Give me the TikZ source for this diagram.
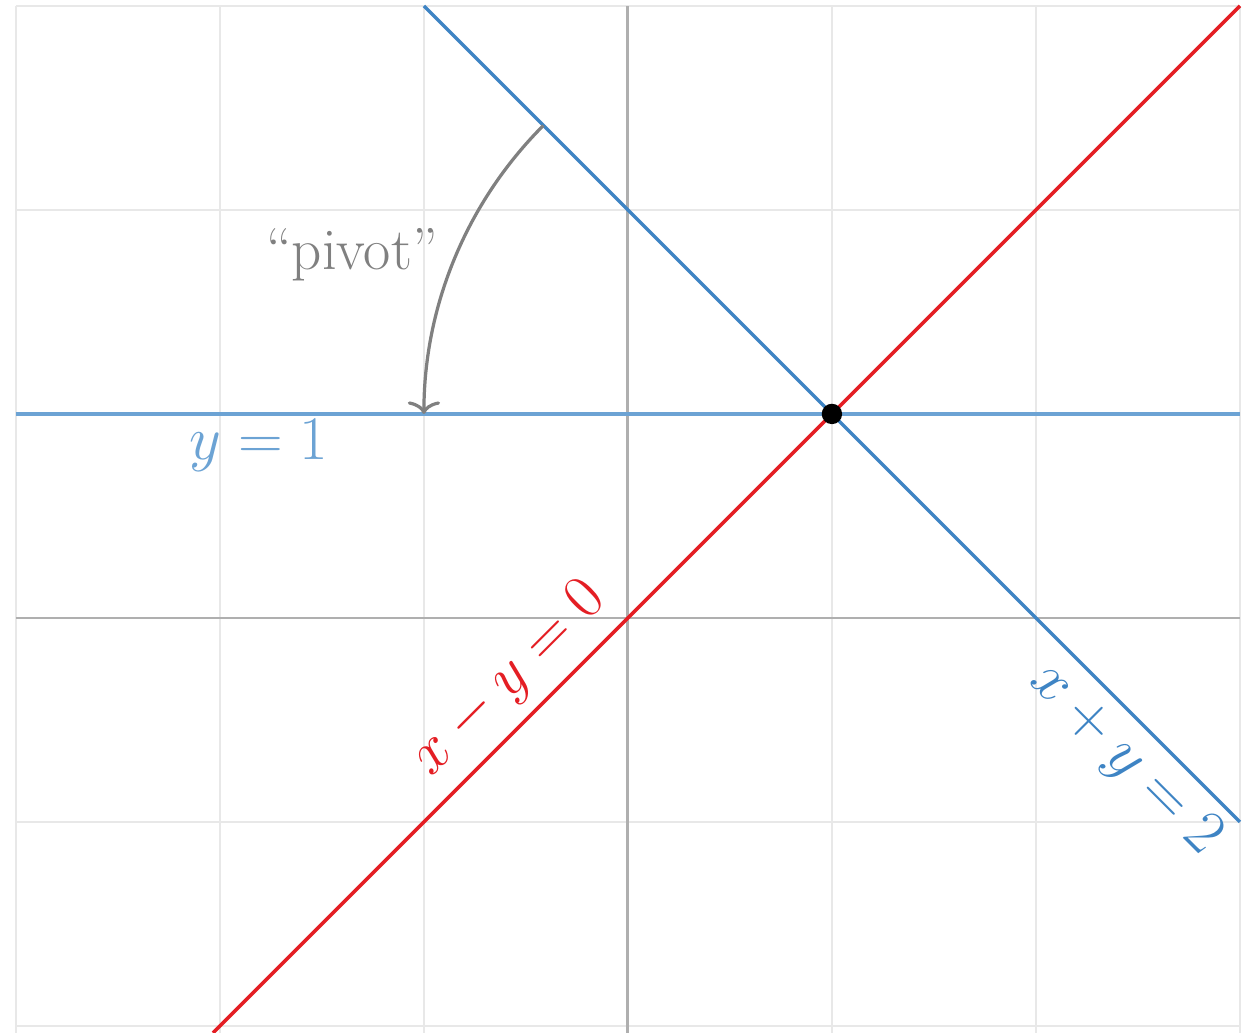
\documentclass[tikz,border=0pt]{standalone}
\usetikzlibrary{arrows.meta}
\definecolor{gridc}{RGB}{232,232,232}
\definecolor{axisc}{RGB}{175,175,175}
\definecolor{lblue}{RGB}{108,163,212}
\definecolor{dblue}{RGB}{62,132,196}
\definecolor{redc}{RGB}{228,30,36}
\definecolor{pivc}{RGB}{128,128,128}
\tikzset{
  gridline/.style={draw=gridc, line width=0.55pt},
  axisline/.style={draw=axisc, line width=0.8pt},
  curve/.style={line width=0.95pt},
  lbl/.style={font=\fontsize{16.5}{19}\selectfont, inner sep=0pt}
}
\begin{document}
\begin{tikzpicture}[x=2cm,y=2cm]
\useasboundingbox[fill=white] (-3.078,-2.034) rectangle (3.064,3.029);
% grid
\foreach \i in {-3,...,3} \draw[gridline] (\i,-2.034) -- (\i,3);
\foreach \j in {-2,...,3} \draw[gridline] (-3,\j) -- (3,\j);
% axes
\draw[axisline] (-3,0) -- (3,0);
\draw[axisline] (0,-2.034) -- (0,3);
% coordinates
\coordinate (hl) at (-3,1);
\coordinate (hr) at (3,1);
\coordinate (bt) at (-1,3);
\coordinate (bb) at (3,-1);
\coordinate (rb) at (-2.034,-2.034);
\coordinate (rt) at (3,3);
\coordinate (P) at (1,1);
\coordinate (ps) at (-0.4142,2.4142);
\coordinate (pe) at (-1,1);
% lines
\draw[curve, lblue] (hl) -- (hr);
\draw[curve, dblue] (bt) -- (bb);
\draw[curve, redc] (rb) -- (rt);
% pivot arc
\draw[pivc, line width=0.9pt, -{To[length=3.5pt,width=9pt]}] (ps) arc[start angle=135, end angle=180, radius=2];
\node[lbl, text=pivc] (piv) at (-1.353,1.78) {``pivot''};
% labels
\node[lbl, text=lblue] (l1) at (-1.809,0.843) {$y = 1$};
\node[lbl, text=redc, rotate=45] (l2) at (-0.578,-0.304) {$x - y = 0$};
\node[lbl, text=dblue, rotate=-45] (l3) at (2.436,-0.696) {$x + y = 2$};
% point
\node[circle, fill=black, inner sep=0pt, minimum size=0.2cm] (dot) at (P) {};
\end{tikzpicture}
\end{document}
